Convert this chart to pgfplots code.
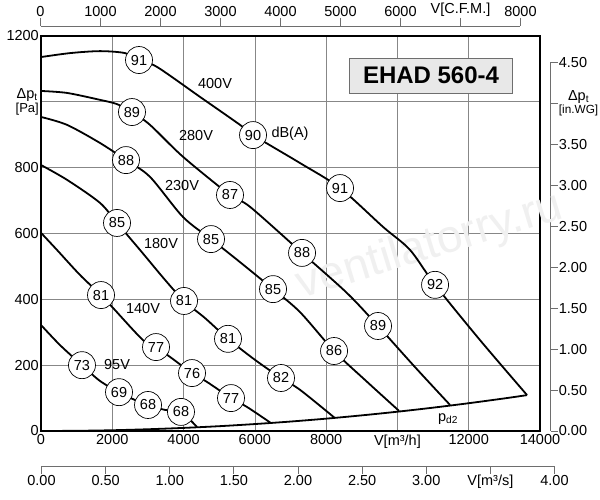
\documentclass[border=0pt]{standalone}
\usepackage{pgfplots}
\pgfplotsset{compat=1.18}
\usepackage{fontspec}
\setmainfont{Liberation Sans}
\newcommand{\fs}{\fontsize{14.5}{16}\selectfont}
\newcommand{\fss}{\fontsize{13}{14}\selectfont}
\newcommand{\fsss}{\fontsize{11.8}{13}\selectfont}
\definecolor{gridc}{RGB}{135,135,135}
\definecolor{secc}{RGB}{110,110,110}
\definecolor{boxfill}{RGB}{232,232,232}

\pgfplotstableread{
x y
0 1136
814 1148
1655 1154
2357 1148
2750 1127
3255 1106
4461 1015
5584 930
5949 899
7268 814
8390 738
9597 620
10354 550
11056 444
12318 276
13637 109
}\vfourhundred
\pgfplotstableread{
x y
0 1033
730 1027
1655 1006
2133 993
2553 969
3058 930
3985 833
5303 717
5865 681
7324 541
8586 419
9456 319
10494 194
11477 79
}\vtwoeighty
\pgfplotstableread{
x y
0 954
730 930
1655 875
2385 823
3058 772
3985 650
4770 583
5584 513
6510 431
7268 361
8222 243
9091 155
10046 61
}\vtwothirty
\pgfplotstableread{
x y
0 808
730 763
1655 693
2133 632
2778 550
3480 459
4013 395
4602 343
5247 280
6005 216
6734 161
7268 125
8250 39
}\voneeighty
\pgfplotstableread{
x y
0 602
449 550
1094 474
1684 413
2020 374
2862 276
3227 255
3620 225
4237 176
4658 149
5331 100
5780 73
6454 24
}\vonefourty
\pgfplotstableread{
x y
0 322
533 261
1150 200
1655 152
2189 118
2638 94
3003 79
3480 64
3928 58
4377 12
}\vninetyfive
\pgfplotstableread{
x y
0 0
1000 0.6
2000 2.3
3000 5.3
4000 9.4
5000 14.6
6000 21.1
7000 28.7
8000 37.5
9000 47.5
10000 58.6
11000 70.9
12000 84.4
13000 99.0
13637 109
}\pdtwo
\pgfplotstableread{
x y label
2750 1127 91
5949 899 90
8390 738 91
11056 444 92
2553 969 89
5303 717 87
7324 541 88
9456 319 89
2385 823 88
4770 583 85
6510 431 85
8222 243 86
2133 632 85
4013 395 81
5247 280 81
6734 161 82
1684 413 81
3227 255 77
4237 176 76
5331 100 77
1150 200 73
2189 118 69
3003 79 68
3928 58 68
}\circles

\begin{document}
\begin{tikzpicture}
\useasboundingbox (0,0) rectangle (600pt,500pt);
\fill[white] (0,0) rectangle (600pt,500pt);

% top CFM scale
\begin{axis}[at={(40.5pt,474pt)}, anchor=north west, scale only axis,
  width=480pt, height=10pt, xmin=0, xmax=8000, ymin=0, ymax=1,
  axis x line=top, axis y line=none,
  x axis line style={-, secc, line width=0.8pt},
  tick align=outside, major tick length=8pt,
  tick style={secc, line width=0.8pt},
  scaled x ticks=false,
  xtick={0,1000,2000,3000,4000,5000,6000,7000,8000},
  xticklabels={0,1000,2000,3000,4000,5000,6000,{V[C.F.M.]},8000},
  ytick=\empty, font=\fs, xticklabel style={inner sep=1pt}]
\addplot[draw=none] coordinates {(0,0)};
\end{axis}

% bottom m3/s scale
\begin{axis}[at={(41.5pt,34pt)}, anchor=south west, scale only axis,
  width=513pt, height=10pt, xmin=0, xmax=4, ymin=0, ymax=1,
  axis x line=bottom, axis y line=none,
  x axis line style={-, secc, line width=0.8pt},
  tick align=outside, major tick length=8pt,
  tick style={secc, line width=0.8pt},
  xtick={0,0.5,1,1.5,2,2.5,3,3.5,4},
  xticklabels={0.00,0.50,1.00,1.50,2.00,2.50,3.00,{V[m³/s]},4.00},
  ytick=\empty, font=\fs, xticklabel style={inner sep=1pt}]
\addplot[draw=none] coordinates {(0,0)};
\end{axis}

% right in.WG scale
\begin{axis}[at={(550.7pt,69pt)}, anchor=south east, scale only axis,
  width=10pt, height=368.6pt, xmin=0, xmax=1, ymin=0, ymax=4.5,
  axis y line=right, axis x line=none,
  y axis line style={-, secc, line width=0.8pt},
  tick align=outside, major tick length=7pt,
  tick style={secc, line width=0.8pt},
  ytick={0,0.5,1,1.5,2,2.5,3,3.5,4,4.5},
  yticklabels={0.00,0.50,1.00,1.50,2.00,2.50,3.00,3.50,{\shortstack{Δp\textsubscript{t}\\[-1pt]{\fsss [in.WG]}}},4.50},
  xtick=\empty, font=\fs, yticklabel style={inner sep=1pt}]
\addplot[draw=none] coordinates {(0,0)};
\end{axis}

% main chart
\begin{axis}[at={(41pt,69pt)}, anchor=south west, scale only axis,
  width=499pt, height=395pt, xmin=0, xmax=14000, ymin=0, ymax=1200,
  scaled x ticks=false, scaled y ticks=false,
  grid=major, grid style={gridc, line width=0.7pt},
  major tick length=0pt, axis line style={line width=2pt},
  xtick={0,2000,4000,6000,8000,10000,12000,14000},
  xticklabels={0,2000,4000,6000,8000,{V[m³/h]},12000,14000},
  ytick={0,200,400,600,800,1000,1200},
  yticklabels={0,200,400,600,800,{\shortstack{Δp\textsubscript{t}\\[-1pt]{\fss [Pa]}}},1200},
  yticklabel style={inner sep=2pt},
  clip=false, font=\fs]

\node[rotate=17, text=black!6, font=\fontsize{46}{46}\selectfont] at (axis cs:10915,560) {ventilatorry.ru};

\addplot[black, line width=1.8pt, smooth, tension=0.5] table {\vfourhundred};
\addplot[black, line width=1.8pt, smooth, tension=0.5] table {\vtwoeighty};
\addplot[black, line width=1.8pt, smooth, tension=0.5] table {\vtwothirty};
\addplot[black, line width=1.8pt, smooth, tension=0.5] table {\voneeighty};
\addplot[black, line width=1.8pt, smooth, tension=0.5] table {\vonefourty};
\addplot[black, line width=1.8pt, smooth, tension=0.5] table {\vninetyfive};
\addplot[black, line width=1.8pt, smooth, tension=0.5] table {\pdtwo};

\addplot[only marks, mark=none, nodes near coords, point meta=explicit symbolic,
  nodes near coords style={anchor=center, circle, draw=black, fill=white,
  line width=0.7pt, inner sep=0pt, minimum size=27pt, font=\fs}]
  table[x=x, y=y, meta=label] {\circles};

\node at (axis cs:4882,1057) {400V};
\node at (axis cs:4349,899) {280V};
\node at (axis cs:3956,745) {230V};
\node at (axis cs:3367,569) {180V};
\node at (axis cs:2862,371) {140V};
\node at (axis cs:2133,201) {95V};
\node at (axis cs:6987,902) {dB(A)};
\node at (axis cs:11420,36) {p\textsubscript{d2}};

\node[draw=secc, fill=boxfill, line width=0.8pt, minimum width=163pt, minimum height=35pt,
  font=\bfseries\fontsize{24}{24}\selectfont] at (axis cs:10943,1080) {EHAD 560-4};
\end{axis}
\end{tikzpicture}
\end{document}
